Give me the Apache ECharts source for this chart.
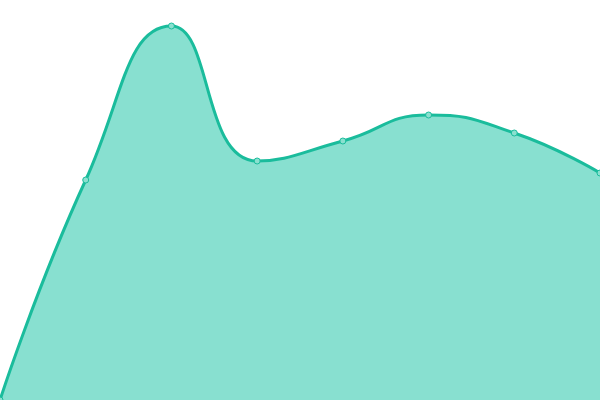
<!DOCTYPE html>
<html>
<head>
<meta charset="utf-8">
<style>
  html, body { margin: 0; padding: 0; background: #fff; }
  #chart { width: 600px; height: 400px; }
</style>
<script src="https://cdn.jsdelivr.net/npm/echarts@6/dist/echarts.min.js"></script>
</head>
<body>
<div id="chart"></div>
<script>
const categories = ['1', '2', '3', '4', '5', '6', '7', '8']
const values = [0, 220, 374, 239, 259, 285, 267, 227]

const myChart = echarts.init(document.getElementById('chart'))

const option = {
  animation: false,
  grid: { left: 0, right: 0, top: 0, bottom: 0 },
  xAxis: {
    type: 'category',
    data: categories,
    boundaryGap: false,
    show: false,
  },
  yAxis: {
    type: 'value',
    min: 0,
    max: 400,
    show: false,
  },
  series: [
    {
      type: 'line',
      data: values,
      smooth: 0.5,
      symbol: 'circle',
      symbolSize: 6,
      itemStyle: {
        color: '#8ae0cf',
        borderColor: '#1abc9c',
        borderWidth: 1,
      },
      lineStyle: { color: '#1abc9c', width: 3 },
      areaStyle: { color: '#88e0d0', opacity: 1 },
    },
  ],
}

myChart.setOption(option)

window.addEventListener('resize', () => {
  myChart.resize()
})
</script>
</body>
</html>
